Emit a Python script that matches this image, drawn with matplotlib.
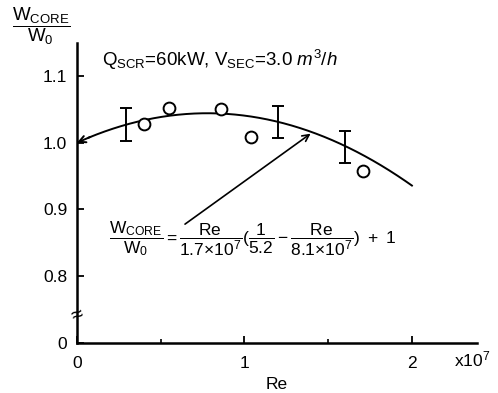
import numpy as np
import matplotlib
matplotlib.use("Agg")
import matplotlib.pyplot as plt
from matplotlib.ticker import FixedLocator

plt.rcParams['font.family'] = ['Liberation Sans', 'DejaVu Sans']
plt.rcParams['mathtext.fontset'] = 'custom'
plt.rcParams['mathtext.rm'] = 'Liberation Sans'
plt.rcParams['mathtext.it'] = 'Liberation Sans:italic'
plt.rcParams['mathtext.bf'] = 'Liberation Sans:bold'

# measured points (Re in units of 1e7)
re_pts = [0.40, 0.55, 0.86, 1.04, 1.71]
w_pts = [1.028, 1.052, 1.050, 1.009, 0.957]

# error bars: position, centre, half height
err_re = [0.29, 1.20, 1.60]
err_mid = [1.027, 1.031, 0.994]
err_half = [0.025, 0.024, 0.024]

# fitted curve coefficients
c1, c2, c3 = 1.7, 5.2, 8.1

# y value where the broken axis shows "0"
y_zero = 0.70
ytick_pos = [y_zero, 0.8, 0.9, 1.0, 1.1]
ytick_lab = ['0', '0.8', '0.9', '1.0', '1.1']
xtick_pos = [0, 1, 2]
xtick_lab = ['0', '1', '2']


def w_core(re):
    return re / c1 * (1 / c2 - re / c3) + 1


fig = plt.figure(figsize=(4.98, 3.93), dpi=100)
ax = fig.add_axes([0.1546, 0.1272, 0.803, 0.763])

re = np.linspace(0.07, 2.0, 200)
ax.plot(re, w_core(re), color='black', lw=1.4)
ax.annotate('', xy=(0.0, w_core(0.0)), xytext=(0.08, w_core(0.08)),
            arrowprops=dict(arrowstyle='->', color='black', lw=1.4,
                            shrinkA=0, shrinkB=0, mutation_scale=12))

ax.plot(re_pts, w_pts, 'o', mfc='white', mec='black', mew=1.4, ms=8.5)
ax.errorbar(err_re, err_mid, yerr=err_half, fmt='none', ecolor='black',
            elinewidth=1.4, capsize=4, capthick=1.4)

# arrow from the formula to the curve
ax.annotate('', xy=(1.395, w_core(1.395) - 0.003), xytext=(0.645, 0.878),
            arrowprops=dict(arrowstyle='->', color='black', lw=1.2,
                            shrinkA=0, shrinkB=0, mutation_scale=12))

ax.text(0.15, 1.124, r'Q$_{\rm SCR}$=60kW, V$_{\rm SEC}$=3.0 $m^3/h$',
        fontsize=13.5, ha='left', va='center')
ax.text(0.19, 0.857,
        r'$\dfrac{\rm W_{CORE}}{\rm W_0}=\dfrac{\rm Re}{1.7{\times}10^7}'
        r'(\dfrac{1}{5.2}-\dfrac{\rm Re}{8.1{\times}10^7})\ +\ 1$',
        fontsize=12.5, ha='left', va='center')

# axis break mark
ax.text(0.0, 0.742, '≈', fontsize=15, ha='center', va='center', rotation=20)

ax.set_xlim(0, 2.388)
ax.set_ylim(y_zero, 1.149)
ax.spines['top'].set_visible(False)
ax.spines['right'].set_visible(False)
ax.spines['left'].set_linewidth(1.8)
ax.spines['bottom'].set_linewidth(1.8)

ax.set_yticks(ytick_pos)
ax.set_yticklabels(ytick_lab)
ax.set_xticks(xtick_pos)
ax.set_xticklabels(xtick_lab)
ax.xaxis.set_minor_locator(FixedLocator([0.5, 1.5]))
ax.tick_params(axis='both', which='major', direction='in', length=5,
               width=1.3, labelsize=12.5)
ax.tick_params(axis='x', which='major', pad=9)
ax.tick_params(axis='y', which='major', pad=7)
ax.tick_params(axis='x', which='minor', direction='in', length=3, width=1.2)

ax.set_xlabel('Re', fontsize=12.5, labelpad=5)
ax.text(2.25, y_zero - 0.010, r'x10$^7$', fontsize=12.5, ha='left', va='top',
        transform=ax.transData)

fig.text(41 / 498, 1 - 26 / 393, r'$\dfrac{\rm W_{CORE}}{\rm W_0}$',
         fontsize=13.5, ha='center', va='center')

fig.savefig('out.png', dpi=100)
